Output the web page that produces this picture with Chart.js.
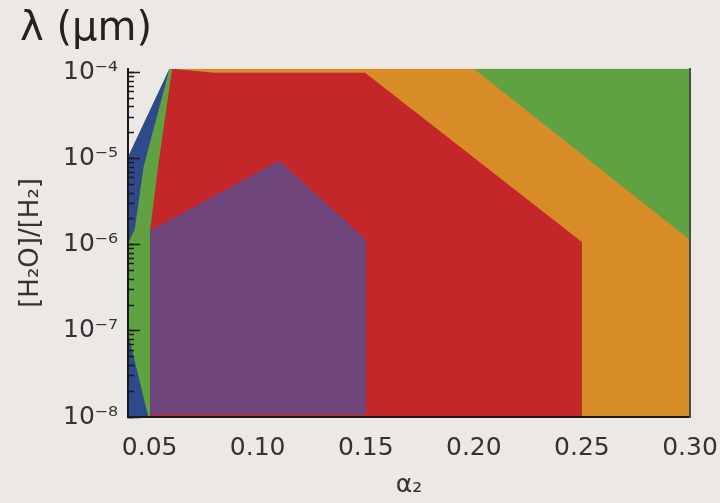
<!DOCTYPE html>
<html>
<head>
<meta charset="utf-8">
<script src="https://cdn.jsdelivr.net/npm/chart.js@4.4.1/dist/chart.umd.min.js"></script>
<style>
  html, body { margin: 0; padding: 0; background: #ebe8e6; }
  #wrap { width: 720px; height: 503px; }
</style>
</head>
<body>
<div id="wrap"><canvas id="chart" width="720" height="503"></canvas></div>
<script>
// Axis ranges and tick labels
const X_MIN = 0.04, X_MAX = 0.30;
const Y_MIN = 1e-8, Y_MAX = 1.11e-4;
const X_TICKS = [0.05, 0.10, 0.15, 0.20, 0.25, 0.30];
const Y_MAJOR = [1e-8, 1e-7, 1e-6, 1e-5, 1e-4];
const Y_LABELS = ['10⁻⁸', '10⁻⁷', '10⁻⁶', '10⁻⁵', '10⁻⁴'];
const Y_MINOR_STEPS = [2, 3, 4, 5, 6, 7, 8, 9];

// Regions of the (alpha2, [H2O]/[H2]) plane, as polygon vertices
const purpleRegion = [[0.0502, 1.06e-8], [0.0502, 1.46e-6], [0.1099, 9.5e-6], [0.1502, 1.14e-6], [0.1502, 1.06e-8]];
const blueUpper = [[0.04, 1.05e-5], [0.04, 1.05e-6], [0.0431, 1.5e-6], [0.0472, 8e-6], [0.0592, 1.11e-4]];
const blueLower = [[0.04, 9.4e-8], [0.04, 1e-8], [0.0494, 1e-8]];
const redRegion = [[0.0502, 1e-8], [0.0502, 1.46e-6], [0.0537, 7.4e-6], [0.0604, 1.11e-4], [0.08, 1.0e-4], [0.1497, 1.0e-4], [0.25, 1.08e-6], [0.25, 1e-8]];
const greenLeft = [[0.04, 1e-8], [0.053, 1e-8], [0.053, 1.4e-6], [0.0555, 7.4e-6], [0.0615, 1.11e-4], [0.0592, 1.11e-4], [0.04, 1.05e-5]];
const greenRight = [[0.20, 1.11e-4], [0.30, 1.14e-6], [0.30, 1.11e-4]];
const orangeRegion = [[0.0604, 1.11e-4], [0.10, 1e-8], [0.30, 1e-8], [0.30, 1.11e-4]];

const COLORS = {
  purple: '#6e467c',
  blue: '#2f4a8a',
  red: '#c3272a',
  green: '#60a142',
  orange: '#d88c28'
};

function region(points, color) {
  return {
    data: points.map(([x, y]) => ({ x, y })),
    showLine: true,
    fill: 'shape',
    backgroundColor: color,
    borderColor: 'transparent',
    borderWidth: 0,
    pointRadius: 0,
    pointHoverRadius: 0,
    tension: 0
  };
}

// Listed top layer first: earlier datasets are painted over later ones
const datasets = [
  region(purpleRegion, COLORS.purple),
  region(blueUpper, COLORS.blue),
  region(blueLower, COLORS.blue),
  region(redRegion, COLORS.red),
  region(greenLeft, COLORS.green),
  region(greenRight, COLORS.green),
  region(orangeRegion, COLORS.orange)
];

const yTickValues = [];
Y_MAJOR.forEach((m, i) => {
  yTickValues.push(m);
  if (i < Y_MAJOR.length - 1) Y_MINOR_STEPS.forEach(s => yTickValues.push(s * m));
});

const AXIS_COLOR = '#1a1a1a';
const TEXT_COLOR = '#333333';
Chart.defaults.font.family = "'DejaVu Sans', sans-serif";
Chart.defaults.color = TEXT_COLOR;

new Chart(document.getElementById('chart'), {
  type: 'scatter',
  data: { datasets },
  options: {
    responsive: false,
    animation: false,
    events: [],
    layout: { padding: { left: 20, right: 30, top: 0, bottom: 0 } },
    plugins: {
      legend: { display: false },
      tooltip: { enabled: false },
      title: {
        display: true,
        text: 'λ (μm)',
        align: 'start',
        color: '#222',
        font: { size: 40, weight: 'normal' },
        padding: { top: 6, bottom: 14.8 }
      }
    },
    scales: {
      x: {
        type: 'linear',
        min: X_MIN,
        max: X_MAX,
        afterBuildTicks: s => { s.ticks = X_TICKS.map(v => ({ value: v })); },
        afterFit: s => { s.height = 86; },
        ticks: {
          autoSkip: false,
          maxRotation: 0,
          padding: 0,
          font: { size: 25 },
          color: TEXT_COLOR,
          callback: v => v.toFixed(2)
        },
        // invisible tick marks only set the gap between axis and labels
        grid: {
          display: true,
          drawOnChartArea: false,
          drawTicks: true,
          tickLength: 16,
          tickColor: 'rgba(0,0,0,0)'
        },
        border: { display: true, color: AXIS_COLOR, width: 2, z: 1 },
        title: {
          display: true,
          text: 'α₂',
          color: TEXT_COLOR,
          font: { size: 25 },
          padding: { top: 0, bottom: 3 }
        }
      },
      y: {
        type: 'logarithmic',
        position: 'left',
        weight: 2,
        min: Y_MIN,
        max: Y_MAX,
        afterBuildTicks: s => { s.ticks = yTickValues.map(v => ({ value: v })); },
        afterFit: s => { s.width = 108; },
        ticks: {
          autoSkip: false,
          padding: 16,
          font: { size: 25 },
          color: TEXT_COLOR,
          z: 1,
          callback: v => {
            const i = Y_MAJOR.findIndex(m => Math.abs(m - v) / m < 1e-6);
            return i >= 0 ? Y_LABELS[i] : '';
          }
        },
        grid: {
          display: true,
          drawOnChartArea: false,
          drawTicks: true,
          tickLength: -6,
          tickColor: AXIS_COLOR,
          tickWidth: 1.5,
          z: 1
        },
        border: { display: true, color: AXIS_COLOR, width: 2, z: 1 },
        title: {
          display: true,
          text: '[H₂O]/[H₂]',
          color: TEXT_COLOR,
          font: { size: 26 },
          padding: { top: -4, bottom: 0 }
        }
      },
      yMajor: {
        type: 'logarithmic',
        position: 'left',
        weight: 1,
        min: Y_MIN,
        max: Y_MAX,
        afterBuildTicks: s => { s.ticks = Y_MAJOR.map(v => ({ value: v })); },
        afterFit: s => { s.width = 0; },
        ticks: { display: false },
        grid: {
          display: true,
          drawOnChartArea: false,
          drawTicks: true,
          tickLength: -12,
          tickColor: AXIS_COLOR,
          tickWidth: 1.5,
          z: 1
        },
        border: { display: false }
      },
      yRight: {
        type: 'linear',
        position: 'right',
        min: 0,
        max: 1,
        afterFit: s => { s.width = 0; },
        ticks: { display: false },
        grid: { display: false },
        border: { display: true, color: '#4a4a4a', width: 2, z: 1 }
      }
    }
  }
});
</script>
</body>
</html>
